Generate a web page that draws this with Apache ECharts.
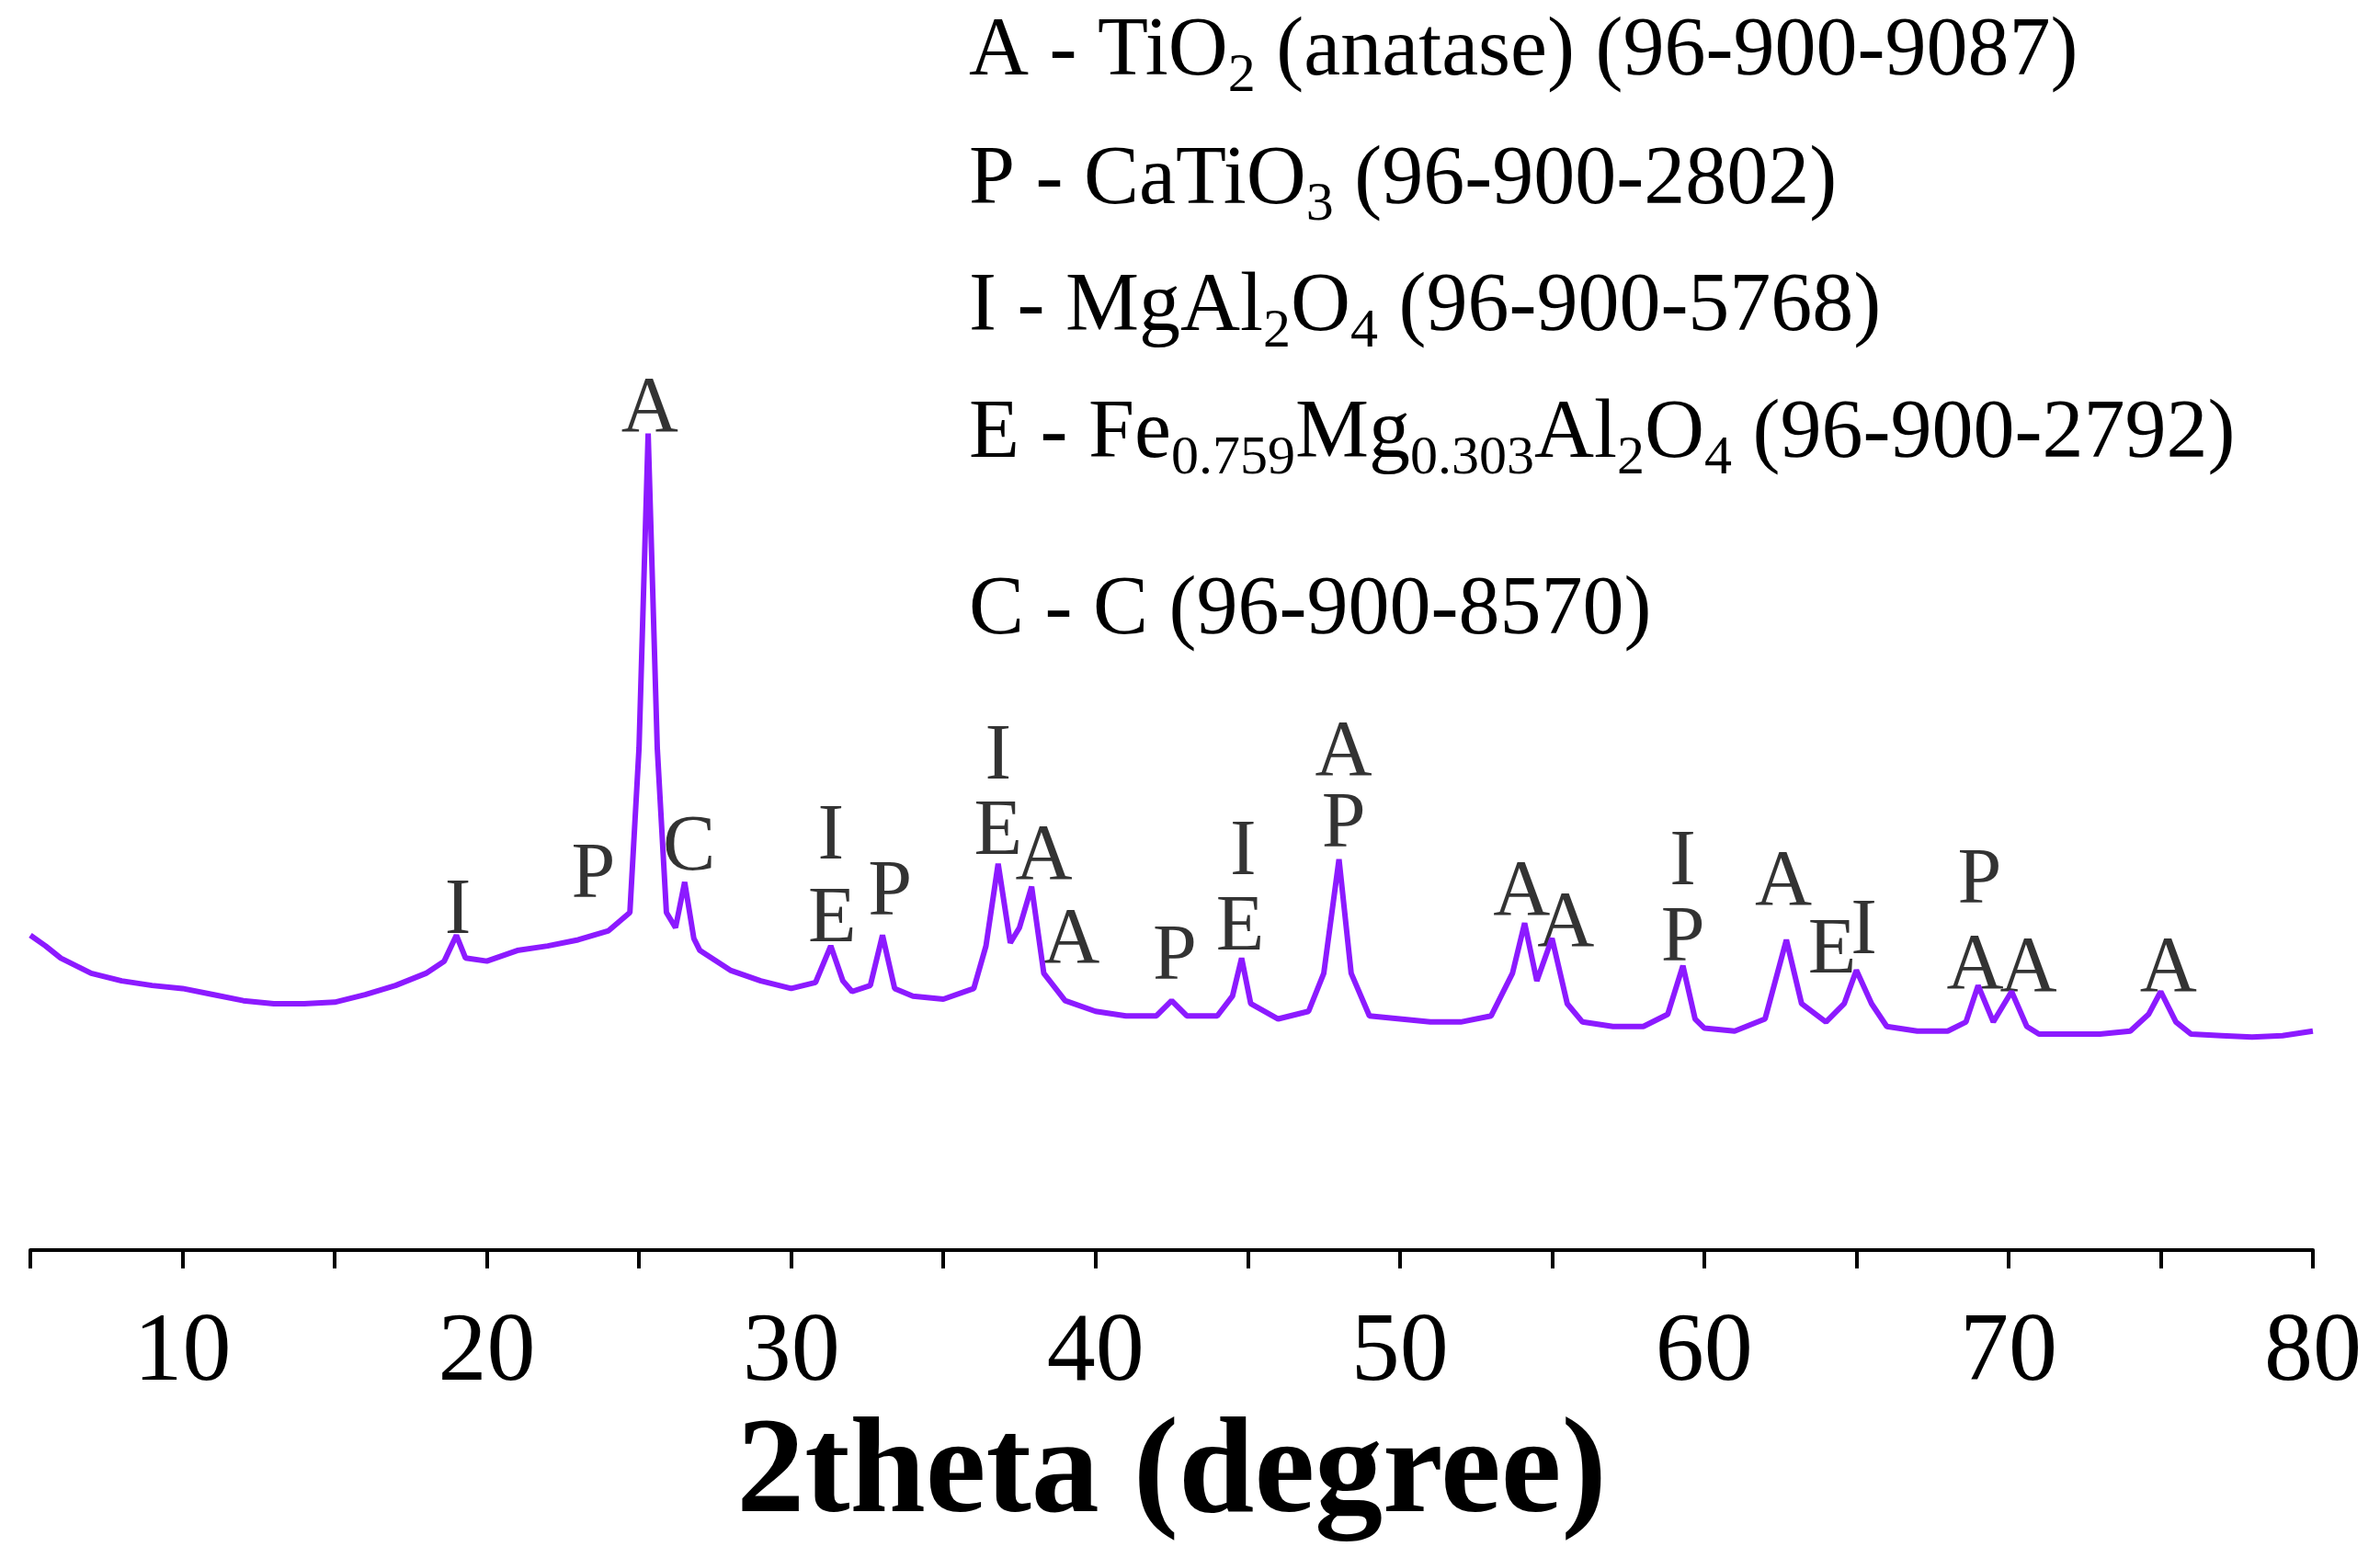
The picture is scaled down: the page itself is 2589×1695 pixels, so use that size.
<!DOCTYPE html>
<html>
<head>
<meta charset="utf-8">
<script src="https://cdn.jsdelivr.net/npm/echarts@6/dist/echarts.min.js"></script>
<style>
  html, body { margin: 0; padding: 0; background: #fff; }
  #chart { width: 2589px; height: 1695px; }
</style>
</head>
<body>
<div id="chart"></div>
<script>
// 2theta values and intensity (arbitrary units)
const twoTheta = [5, 5.5, 6, 7, 8, 9, 10, 11, 12, 13, 14, 15, 16, 17, 18, 18.6, 19, 19.3, 20, 21, 22, 23, 24, 24.7, 25.0, 25.3, 25.6, 25.9, 26.2, 26.5, 26.8, 27, 28, 29, 30, 30.8, 31.3, 31.7, 32, 32.6, 33, 33.4, 34, 35, 36, 36.4, 36.8, 37.2, 37.5, 37.9, 38.3, 39, 40, 41, 42, 42.5, 43, 44, 44.5, 44.8, 45.1, 46, 47, 47.5, 48, 48.4, 49, 50, 51, 52, 53, 53.7, 54.1, 54.5, 55, 55.5, 56, 57, 58, 58.8, 59.3, 59.7, 60, 61, 62, 62.7, 63.2, 64, 64.6, 65, 65.5, 66, 67, 68, 68.6, 69, 69.5, 70.1, 70.6, 71, 72, 73, 74, 74.6, 75, 75.5, 76, 77, 78, 79, 80];
const intensity = [207, 200, 192, 182, 177, 174, 172, 168, 164, 162, 162, 163, 168, 174, 182, 190, 207, 192, 190, 197, 200, 204, 210, 222, 330, 537, 330, 222, 212, 242, 205, 197, 184, 177, 172, 176, 200, 177, 170, 174, 207, 172, 167, 165, 172, 200, 254, 202, 212, 239, 182, 164, 157, 154, 154, 164, 154, 154, 167, 192, 162, 152, 157, 182, 257, 182, 154, 152, 150, 150, 154, 182, 215, 177, 205, 162, 150, 147, 147, 155, 187, 152, 146, 144, 152, 204, 162, 150, 162, 184, 162, 147, 144, 144, 150, 174, 150, 170, 147, 142, 142, 142, 144, 155, 170, 150, 142, 141, 140, 141, 144];

// peak annotations: [2theta, height, letter]
const peakLabels = [
  [19.05, 222, 'I'], [23.5, 246, 'P'], [25.35, 552, 'A'], [26.65, 264, 'C'],
  [31.3, 271, 'I'], [31.35, 217, 'E'], [33.25, 234, 'P'],
  [36.8, 324, 'I'], [36.8, 274, 'E'], [38.3, 258, 'A'], [39.2, 203, 'A'],
  [42.6, 192, 'P'], [44.85, 261, 'I'], [44.75, 211, 'E'],
  [48.15, 326, 'A'], [48.15, 279, 'P'], [54.0, 234, 'A'], [55.45, 214, 'A'],
  [59.3, 254, 'I'], [59.3, 204, 'P'], [62.6, 241, 'A'], [64.2, 196, 'E'],
  [65.25, 209, 'I'], [69.05, 242, 'P'], [68.9, 186, 'A'], [70.65, 184, 'A'],
  [75.25, 184, 'A']
];

const legendLines = [
  '{t|A - TiO}{s|2}{t| (anatase) (96-900-9087)}',
  '{t|P - CaTiO}{s|3}{t| (96-900-2802)}',
  '{t|I - MgAl}{s|2}{t|O}{s|4}{t| (96-900-5768)}',
  '{t|E - Fe}{s|0.759}{t|Mg}{s|0.303}{t|Al}{s|2}{t|O}{s|4}{t| (96-900-2792)}',
  '{t|C - C (96-900-8570)}'
];
const legendTops = [12, 152, 290, 428, 620];

const FONT = '"Liberation Serif", "Times New Roman", serif';
const chart = echarts.init(document.getElementById('chart'));

chart.setOption({
  animation: false,
  backgroundColor: '#fff',
  grid: { left: 33, right: 73, top: 0, bottom: 335 },
  xAxis: {
    type: 'value', min: 5, max: 80, interval: 5,
    name: '2theta (degree)', nameLocation: 'middle', nameGap: 172,
    nameTextStyle: { fontFamily: FONT, fontWeight: 'bold', fontSize: 148, color: '#000' },
    axisLine: { lineStyle: { color: '#000', width: 4 } },
    axisTick: { length: 20, lineStyle: { color: '#000', width: 4 } },
    axisLabel: {
      fontFamily: FONT, fontSize: 106, color: '#000', margin: 60,
      formatter: v => (v % 10 === 0 ? String(v) : '')
    },
    splitLine: { show: false }
  },
  yAxis: { type: 'value', min: 0, max: 822, show: false },
  graphic: legendLines.map((txt, i) => ({
    type: 'text', left: 1054, top: legendTops[i],
    style: {
      text: txt,
      rich: {
        t: { fontFamily: FONT, fontSize: 90, color: '#000' },
        s: { fontFamily: FONT, fontSize: 60, color: '#000', padding: [52, 0, 0, 0] }
      }
    }
  })),
  series: [
    {
      type: 'line', showSymbol: false, silent: true,
      data: twoTheta.map((x, i) => [x, intensity[i]]),
      lineStyle: { color: '#8c1aff', width: 6 }
    },
    {
      type: 'scatter', symbolSize: 0, silent: true,
      data: peakLabels.map(p => ({ value: [p[0], p[1]], name: p[2] })),
      label: {
        show: true, position: 'inside', formatter: p => p.name,
        fontFamily: FONT, fontSize: 86, color: '#000'
      }
    }
  ]
});
</script>
</body>
</html>
